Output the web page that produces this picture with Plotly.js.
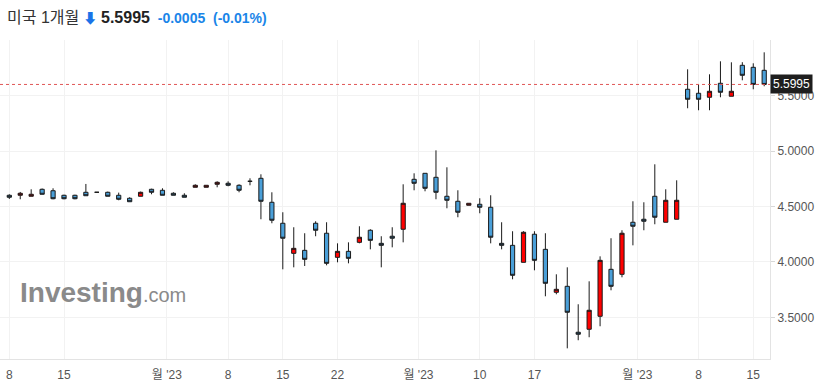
<!DOCTYPE html>
<html><head><meta charset="utf-8">
<script src="https://cdn.plot.ly/plotly-3.0.1.min.js"></script>
<style>html,body{margin:0;padding:0;background:#fff;}#chart{width:823px;height:388px;}</style>
</head><body><div id="chart"></div>
<script>
const dates = [
 "2023-02-08","2023-02-09","2023-02-10","2023-02-13","2023-02-14","2023-02-15","2023-02-16","2023-02-17","2023-02-20","2023-02-21",
 "2023-02-22","2023-02-23","2023-02-24","2023-02-27","2023-02-28","2023-03-01","2023-03-02","2023-03-03","2023-03-06","2023-03-07",
 "2023-03-08","2023-03-09","2023-03-10","2023-03-13","2023-03-14","2023-03-15","2023-03-16","2023-03-17","2023-03-20","2023-03-21",
 "2023-03-22","2023-03-23","2023-03-24","2023-03-27","2023-03-28","2023-03-29","2023-03-30","2023-03-31","2023-04-03","2023-04-04",
 "2023-04-05","2023-04-06","2023-04-07","2023-04-10","2023-04-11","2023-04-12","2023-04-13","2023-04-14","2023-04-17","2023-04-18",
 "2023-04-19","2023-04-20","2023-04-21","2023-04-24","2023-04-25","2023-04-26","2023-04-27","2023-04-28","2023-05-01","2023-05-02",
 "2023-05-03","2023-05-04","2023-05-05","2023-05-08","2023-05-09","2023-05-10","2023-05-11","2023-05-12","2023-05-15","2023-05-16"
];
const opens = [
 4.601,4.601,4.592,4.655,4.642,4.601,4.601,4.628,4.628,4.628,
 4.601,4.574,4.592,4.655,4.646,4.619,4.601,4.673,4.673,4.700,
 4.709,4.691,4.727,4.754,4.538,4.349,4.078,4.105,4.349,4.259,
 4.042,4.096,4.177,4.286,4.168,4.232,4.295,4.745,4.799,4.763,
 4.592,4.547,4.511,4.520,4.493,4.168,4.150,3.997,4.250,4.114,
 3.727,3.781,3.367,3.394,3.511,3.934,3.889,4.358,4.385,4.592,
 4.358,4.385,5.556,5.520,5.484,5.610,5.493,5.772,5.754,5.727
];
const highs = [
 4.610,4.631,4.655,4.662,4.664,4.606,4.606,4.703,4.628,4.634,
 4.625,4.583,4.634,4.660,4.664,4.628,4.619,4.700,4.691,4.727,
 4.727,4.700,4.754,4.790,4.628,4.448,4.313,4.259,4.367,4.358,
 4.168,4.177,4.322,4.295,4.232,4.313,4.700,4.799,4.799,5.006,
 4.853,4.646,4.529,4.574,4.601,4.358,4.277,4.277,4.277,4.259,
 3.889,3.952,3.619,3.826,4.051,4.214,4.286,4.547,4.538,4.880,
 4.655,4.736,5.736,5.601,5.691,5.808,5.799,5.800,5.790,5.889
];
const lows = [
 4.568,4.565,4.592,4.608,4.565,4.565,4.565,4.597,4.628,4.592,
 4.556,4.543,4.592,4.610,4.601,4.601,4.583,4.673,4.673,4.673,
 4.682,4.628,4.691,4.385,4.349,3.934,3.952,3.964,4.232,3.970,
 3.997,3.988,4.168,4.114,3.952,4.132,4.177,4.646,4.637,4.565,
 4.484,4.403,4.511,4.439,4.168,4.114,3.844,3.997,3.925,3.691,
 3.709,3.222,3.295,3.322,3.421,3.745,3.862,4.150,4.286,4.340,
 4.358,4.385,5.385,5.367,5.367,5.484,5.493,5.637,5.556,5.583
];
const closes = [
 4.583,4.619,4.610,4.610,4.570,4.570,4.570,4.597,4.628,4.592,
 4.565,4.543,4.628,4.628,4.601,4.601,4.583,4.691,4.691,4.718,
 4.691,4.646,4.727,4.547,4.376,4.214,4.123,4.024,4.286,3.988,
 4.096,4.033,4.223,4.195,4.150,4.214,4.529,4.709,4.664,4.628,
 4.556,4.448,4.529,4.493,4.223,4.150,3.880,4.268,4.015,3.808,
 3.754,3.547,3.349,3.565,4.015,3.781,4.259,4.322,4.367,4.403,
 4.556,4.556,5.466,5.466,5.538,5.529,5.538,5.682,5.600,5.5995
];
const tickDates = ["2023-02-08","2023-02-15","2023-03-01","2023-03-08","2023-03-15","2023-03-22","2023-04-03","2023-04-10","2023-04-17","2023-05-01","2023-05-08","2023-05-15"];
const tickLabels = ["8","15","월 '23","8","15","22","월 '23","10","17","월 '23","8","15"];
const yTicks = [3.5,4.0,4.5,5.0,5.5];
const titleName = "미국 1개월";
const lastPrice = "5.5995";
const change = "-0.0005";
const changePct = "(-0.01%)";

const xIdx = dates.map((d,i)=>i);
const tickVals = tickDates.map((d,i)=>dates.indexOf(d) - (tickLabels[i].indexOf("월")>=0 ? 0.6 : 0));
const last = closes[closes.length-1];

const FONT = "'Liberation Sans', Arial, 'Noto Sans CJK KR', sans-serif";

const trace = {
  type:'candlestick',
  x:xIdx, open:opens, high:highs, low:lows, close:closes,
  text:dates, hoverinfo:'text',
  increasing:{line:{color:'#1a1a1a',width:1}, fillcolor:'#ff0000'},
  decreasing:{line:{color:'#1a1a1a',width:1}, fillcolor:'#4a9fd8'},
  whiskerwidth:0
};

const layout = {
  width:823, height:388,
  margin:{l:0, r:53, t:40, b:29},
  paper_bgcolor:'#ffffff', plot_bgcolor:'#ffffff',
  showlegend:false,
  boxgap:0.45,
  font:{family:FONT, color:'#555'},
  xaxis:{
    type:'linear', range:[-0.85, 69.53],
    tickvals:tickVals, ticktext:tickLabels,
    showgrid:true, gridcolor:'#f2f2f2', gridwidth:1, zeroline:false,
    showline:true, linecolor:'#e3e3e3', linewidth:1,
    ticks:'outside', ticklen:5, tickcolor:'rgba(0,0,0,0)',
    tickfont:{size:12, color:'#555', family:FONT},
    rangeslider:{visible:false}, fixedrange:true
  },
  yaxis:{
    side:'right', range:[3.126, 6.0],
    tickvals:yTicks, tickformat:'.4f',
    showgrid:true, gridcolor:'#f2f2f2', zeroline:false,
    showline:true, linecolor:'#e3e3e3', linewidth:1,
    ticks:'outside', ticklen:4, tickcolor:'#d8d8d8',
    tickfont:{size:12, color:'#555', family:FONT}, fixedrange:true
  },
  shapes:[{
    type:'line', xref:'paper', x0:0, x1:1, yref:'y', y0:last, y1:last,
    line:{color:'#e05555', width:1, dash:'3px,3px'}
  }],
  annotations:[
    {xref:'paper', yref:'y', x:1, y:last, xanchor:'left', yanchor:'middle', showarrow:false,
     text:lastPrice, bgcolor:'#1e1e1e', font:{color:'#ffffff', size:12, family:FONT}, borderpad:2},
    {xref:'paper', yref:'paper', x:0, y:1.072, xanchor:'left', yanchor:'middle', xshift:5, showarrow:false,
     text:'<span style="font-size:16px;color:#333">'+titleName+'</span> <span style="color:#1a73e8;font-size:14px">⬇</span> <b><span style="color:#222;font-size:16px">'+lastPrice+'</span></b>  <b><span style="color:#1a85e8">'+change+'  '+changePct+'</span></b>',
     font:{size:14, family:FONT, color:'#333'}},
    {xref:'paper', yref:'paper', x:0.024, y:0.207, xanchor:'left', yanchor:'middle', showarrow:false,
     text:'<b>Investing</b><span style="font-size:20px">.com</span>',
     font:{size:28, family:FONT, color:'#8a8a8a'}}
  ]
};

Plotly.newPlot('chart', [trace], layout, {displayModeBar:false, staticPlot:true});
</script>
</body></html>
